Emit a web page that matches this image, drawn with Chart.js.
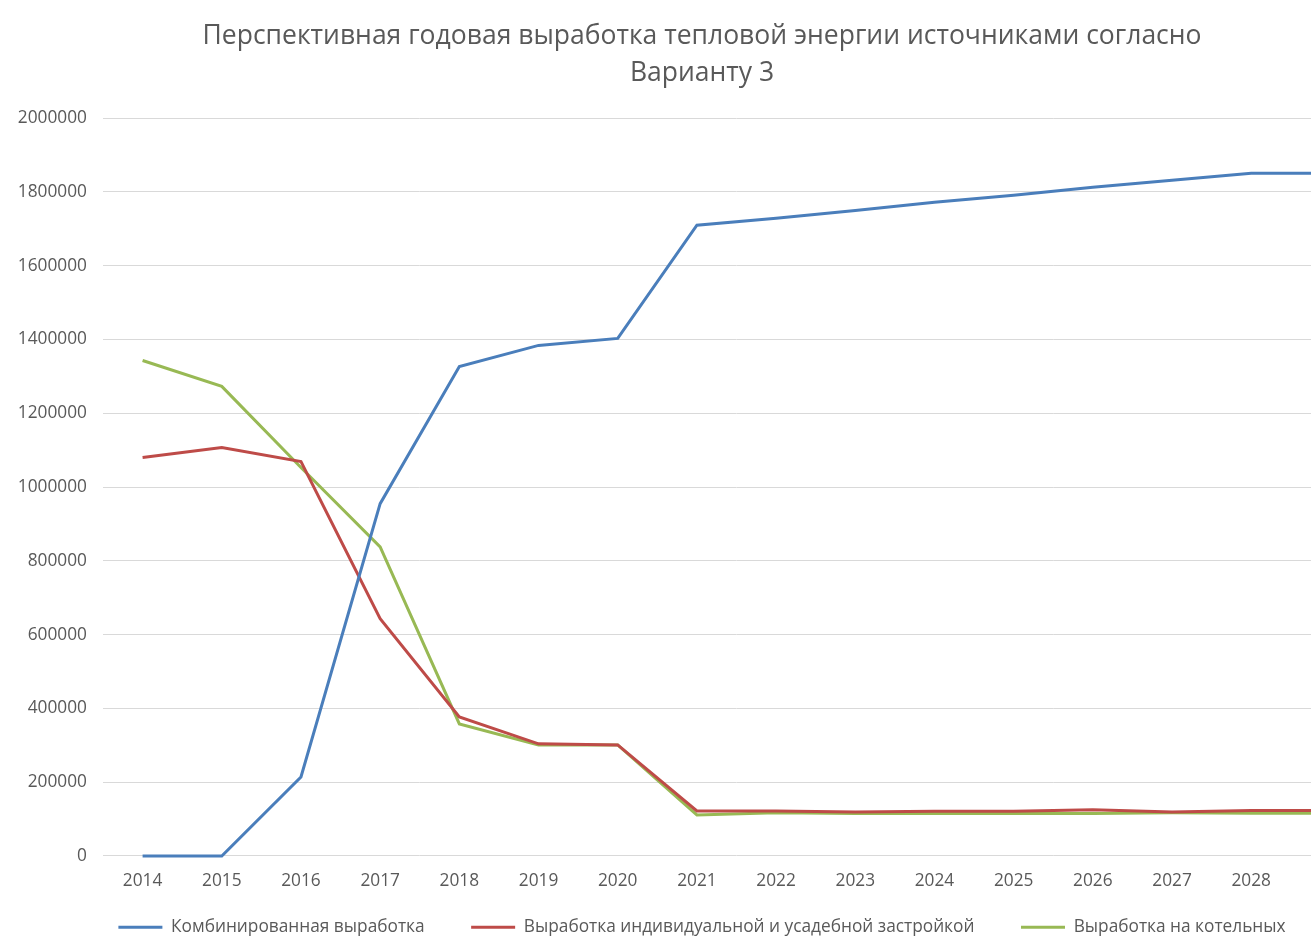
<!DOCTYPE html>
<html>
<head>
<meta charset="utf-8">
<script src="https://cdn.jsdelivr.net/npm/chart.js@4/dist/chart.umd.min.js"></script>
<style>
  html, body { margin: 0; padding: 0; background: #fff; overflow: hidden; }
  .wrap { width: 1404px; height: 937px; }
</style>
</head>
<body>
<div class="wrap"><canvas class="line-chart"></canvas></div>
<script>
const years = ["2014", "2015", "2016", "2017", "2018", "2019", "2020", "2021",
  "2022", "2023", "2024", "2025", "2026", "2027", "2028", "2029"];

// комбинированная выработка
const combined = [0, 0, 214000, 955000, 1327000, 1384000, 1403000, 1710000,
  1729000, 1750000, 1772000, 1791000, 1813000, 1832000, 1851000, 1851000];

// индивидуальная и усадебная застройка
const individual = [1080000, 1107000, 1069000, 643000, 377000, 304000, 301000, 122000,
  122000, 119000, 121000, 121000, 125000, 119000, 123000, 123000];

// котельные
const boilers = [1343000, 1273000, 1053000, 838000, 358000, 301000, 301000, 111000,
  117000, 115000, 115000, 115000, 115000, 117000, 116000, 116000];

const seriesNames = [
  "Комбинированная выработка",
  "Выработка индивидуальной и усадебной застройкой",
  "Выработка на котельных",
];

const titleLines = [
  "Перспективная годовая выработка тепловой энергии источниками согласно",
  "Варианту 3",
];

const font = "'Open Sans', 'Liberation Sans', sans-serif";
const grey = "#595959";

const makeSet = (label, data, color) => ({
  label: label,
  data: data,
  borderColor: color,
  backgroundColor: color,
  borderWidth: 3,
  pointRadius: 0,
  tension: 0,
  fill: false,
  clip: false,
});

new Chart(document.querySelector(".line-chart"), {
  type: "line",
  data: {
    labels: years,
    datasets: [
      makeSet(seriesNames[0], combined, "#4a7ebb"),
      makeSet(seriesNames[1], individual, "#be4b48"),
      makeSet(seriesNames[2], boilers, "#98b954"),
    ],
  },
  options: {
    responsive: true,
    maintainAspectRatio: false,
    animation: false,
    layout: { padding: { left: 0, right: 0, top: 0, bottom: -9 } },
    plugins: {
      title: {
        display: true,
        text: titleLines,
        color: grey,
        font: { family: font, size: 26.5, weight: "normal", lineHeight: 1.4 },
        padding: { top: 18, bottom: 26 },
      },
      legend: {
        position: "bottom",
        labels: {
          color: grey,
          font: { family: font, size: 17.3 },
          usePointStyle: true,
          pointStyle: "line",
          pointStyleWidth: 44,
          padding: 12,
          // extra gap between legend entries
          generateLabels: (chart) => {
            const items = Chart.defaults.plugins.legend.labels.generateLabels(chart);
            items.forEach((item, i) => {
              if (i < items.length - 1) item.text += "\u2002\u2002\u2002\u2002";
            });
            return items;
          },
        },
      },
      tooltip: { enabled: false },
    },
    scales: {
      x: {
        offset: true,
        grid: { display: false, drawTicks: false },
        border: { display: false },
        ticks: { color: grey, font: { family: font, size: 17.3 }, padding: 15 },
      },
      y: {
        min: 0,
        max: 2000000,
        afterFit: (scale) => { scale.width = 103; },
        grid: { color: "#d9d9d9", drawTicks: false },
        border: { display: false },
        ticks: {
          stepSize: 200000,
          color: grey,
          font: { family: font, size: 17.3 },
          padding: 16,
          callback: (v) => String(v),
        },
      },
      // empty strip on the right so the plot ends where the reference does
      yRight: {
        position: "right",
        afterFit: (scale) => { scale.width = 34; },
        grid: { display: false },
        border: { display: false },
        ticks: { display: false },
      },
    },
  },
});
</script>
</body>
</html>
